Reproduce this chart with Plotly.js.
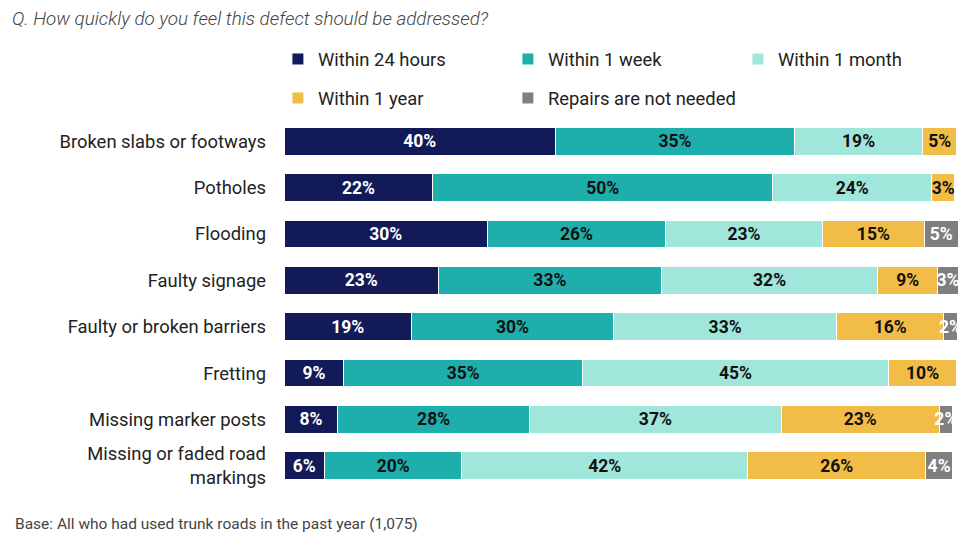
<!DOCTYPE html>
<html>
<head>
<meta charset="utf-8">
<script src="https://cdn.plot.ly/plotly-3.0.1.min.js"></script>
<style>html,body{margin:0;padding:0;background:#fff;}#chart{width:974px;height:545px;}</style>
</head>
<body>
<div id="chart"></div>
<script>
const categories = ['Broken slabs or footways','Potholes','Flooding','Faulty signage','Faulty or broken barriers','Fretting','Missing marker posts','Missing or faded road<br>markings'];
const seriesNames = ['Within 24 hours','Within 1 week','Within 1 month','Within 1 year','Repairs are not needed'];
const within24h = [40.3, 22.1, 30.2, 22.9, 18.9, 8.9, 8.0, 6.0];
const within1w  = [35.4, 50.4, 26.4, 33.1, 30.0, 35.4, 28.4, 20.4];
const within1m  = [19.1, 23.6, 23.3, 32.1, 33.1, 45.4, 37.4, 42.4];
const within1y  = [5.0, 3.4, 15.1, 8.9, 15.9, 10.1, 23.4, 26.4];
const notNeeded = [null, null, 5.0, 3.0, 2.0, null, 2.0, 4.0];

const colors = ['#131a58', '#1eafad', '#a1e6da', '#f1bd47', '#7f7f7f'];
const textColors = ['#ffffff', '#111111', '#111111', '#111111', '#ffffff'];
const seriesValues = [within24h, within1w, within1m, within1y, notNeeded];
const legendIds = ['legend', 'legend', 'legend', 'legend2', 'legend2'];

const traces = seriesValues.map((vals, i) => ({
  type: 'bar',
  orientation: 'h',
  name: seriesNames[i],
  y: categories,
  x: vals,
  legend: legendIds[i],
  marker: {color: colors[i], line: {color: '#ffffff', width: 1}},
  texttemplate: '%{x:.0f}%',
  textposition: 'inside',
  insidetextanchor: 'middle',
  textangle: 0,
  textfont: {family: 'Roboto, sans-serif', size: 17.5, color: textColors[i], weight: 700},
  hoverinfo: 'skip'
}));

const plotTop = 118, plotBottom = 489.2, plotH = plotBottom - plotTop;
const legendCommon = {
  orientation: 'h', xref: 'paper', yref: 'paper', xanchor: 'left', yanchor: 'middle',
  x: -0.009, entrywidth: 185, entrywidthmode: 'pixels', itemclick: false,
  font: {family: 'Roboto, sans-serif', size: 18.4, color: '#222222'},
  bgcolor: 'rgba(0,0,0,0)', traceorder: 'normal'
};

const layout = {
  width: 974, height: 545,
  margin: {l: 284, r: 16, t: plotTop, b: 545 - plotBottom},
  paper_bgcolor: '#ffffff', plot_bgcolor: '#ffffff',
  barmode: 'stack', bargap: 0.4,
  showlegend: true,
  uniformtext: {mode: 'show', minsize: 17.5},
  font: {family: 'Roboto, sans-serif', color: '#222222'},
  title: {
    text: 'Q. How quickly do you feel this defect should be addressed?',
    x: 12 / 974, xanchor: 'left', xref: 'container',
    y: 1 - 18 / 545, yanchor: 'middle', yref: 'container',
    font: {family: 'Roboto, sans-serif', size: 18.8, color: '#444444', style: 'italic', weight: 300}
  },
  legend: Object.assign({}, legendCommon, {y: (plotBottom - 59) / plotH}),
  legend2: Object.assign({}, legendCommon, {y: (plotBottom - 98) / plotH}),
  xaxis: {range: [0, 100], showgrid: false, zeroline: false, showticklabels: false, showline: false, fixedrange: true},
  yaxis: {
    autorange: 'reversed', showgrid: false, zeroline: false, showline: false,
    ticks: '', ticklabelstandoff: 17,
    tickfont: {family: 'Roboto, sans-serif', size: 18.4, color: '#222222'}
  },
  annotations: [{
    text: 'Base: All who had used trunk roads in the past year (1,075)',
    xref: 'paper', yref: 'paper', x: (13 - 284) / 674, y: (plotBottom - 524) / plotH,
    xanchor: 'left', yanchor: 'middle', showarrow: false, align: 'left',
    font: {family: 'Roboto, sans-serif', size: 15.5, color: '#444444'}
  }]
};

Plotly.newPlot('chart', traces, layout, {displayModeBar: false, staticPlot: true});
</script>
</body>
</html>
